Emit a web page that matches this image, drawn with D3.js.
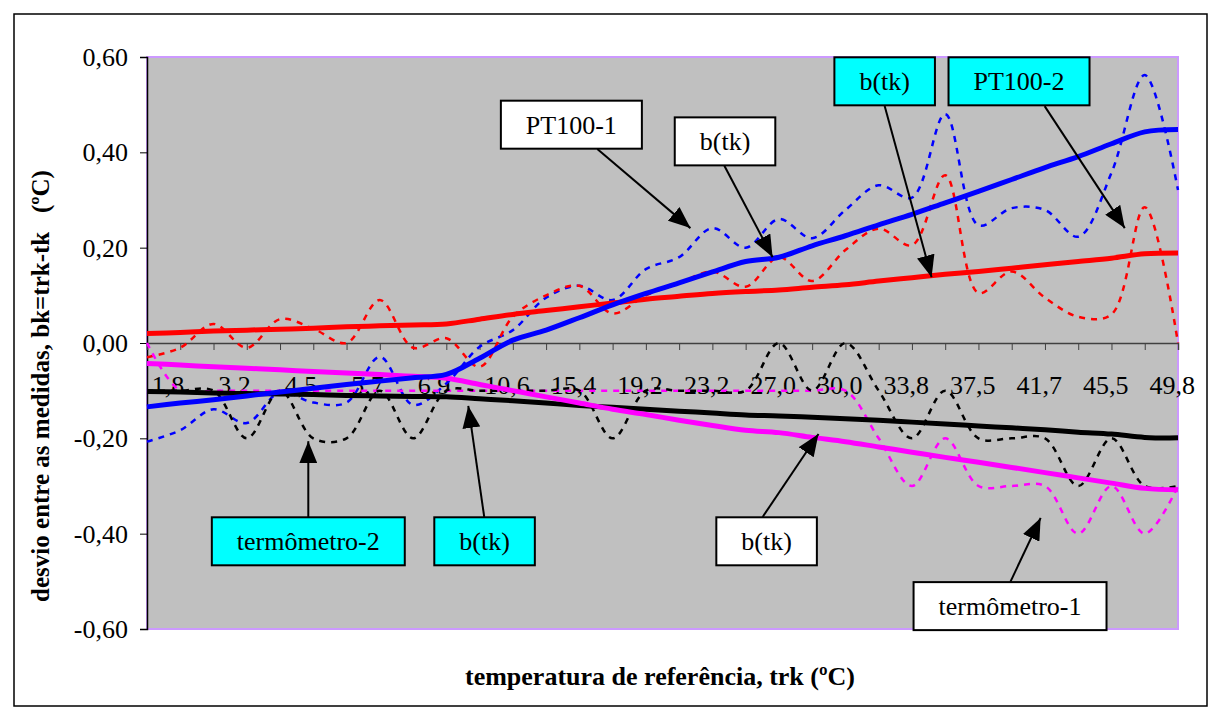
<!DOCTYPE html>
<head>
  <meta charset="utf-8">
  <script src="https://d3js.org/d3.v7.min.js"></script>
  <style>
    body { margin: 0; background: #fff; }
    svg text { font-family: "Liberation Serif", "DejaVu Serif", serif !important; fill: #000; }
  </style>
</head>
<body>
  <svg width="1221" height="722"></svg>
  <script>

  // categorias (temperatura de referência); só as ímpares têm rótulo
  var categorias = ["", "1,8", "", "3,2", "", "4,5", "", "5,7", "", "6,9", "", "10,6", "", "15,4", "", "19,2",
                    "", "23,2", "", "27,0", "", "30,0", "", "33,8", "", "37,5", "", "41,7", "", "45,5", "", "49,8"];

  var ticksY = [-0.6, -0.4, -0.2, 0, 0.2, 0.4, 0.6];

  // desvios medidos
  var pt100_1 = [-0.207, -0.183, -0.139, -0.168, -0.103, -0.125, -0.125, -0.029, -0.130, -0.085, -0.008, 0.027,
                 0.095, 0.120, 0.090, 0.155, 0.180, 0.241, 0.200, 0.260, 0.220, 0.279, 0.331, 0.305,
                 0.480, 0.247, 0.283, 0.279, 0.223, 0.357, 0.562, 0.321];
  var pt100_2 = [-0.030, -0.010, 0.040, -0.010, 0.050, 0.030, 0.000, 0.090, -0.010, 0.010, -0.050, 0.055,
                 0.100, 0.120, 0.062, 0.100, 0.125, 0.150, 0.118, 0.180, 0.130, 0.195, 0.240, 0.205,
                 0.352, 0.105, 0.150, 0.095, 0.055, 0.060, 0.285, 0.000];
  var termo1 = [0.0, -0.1, -0.1, -0.1, -0.1, -0.1, -0.1, -0.1, -0.1, -0.1, -0.1, -0.1, -0.1, -0.1, -0.1, -0.1,
                -0.1, -0.1, -0.1, -0.1, -0.1, -0.1, -0.2, -0.3, -0.2, -0.3, -0.3, -0.3, -0.4, -0.3, -0.4, -0.3];
  var termo2 = [-0.1, -0.1, -0.1, -0.2, -0.1, -0.2, -0.2, -0.1, -0.2, -0.1, -0.1, -0.1, -0.1, -0.1, -0.2, -0.1,
                -0.1, -0.1, -0.1, 0.0, -0.1, 0.0, -0.1, -0.2, -0.1, -0.2, -0.2, -0.2, -0.3, -0.2, -0.3, -0.3];

  // b(tk) ajustados
  var pt100_1_b = [-0.134, -0.126, -0.119, -0.111, -0.103, -0.095, -0.087, -0.080, -0.073, -0.066, -0.032, 0.006,
                   0.027, 0.053, 0.080, 0.104, 0.126, 0.149, 0.171, 0.180, 0.204, 0.225, 0.248, 0.270,
                   0.294, 0.318, 0.343, 0.368, 0.391, 0.418, 0.443, 0.448];
  var pt100_2_b = [0.020, 0.022, 0.025, 0.027, 0.029, 0.031, 0.034, 0.036, 0.038, 0.040, 0.050, 0.060,
                   0.068, 0.076, 0.084, 0.092, 0.098, 0.104, 0.108, 0.111, 0.117, 0.122, 0.130, 0.137,
                   0.144, 0.150, 0.157, 0.164, 0.171, 0.178, 0.187, 0.189];
  var termo1_b = [-0.043, -0.046, -0.050, -0.053, -0.056, -0.060, -0.063, -0.066, -0.070, -0.074, -0.087, -0.100,
                  -0.113, -0.126, -0.139, -0.150, -0.162, -0.173, -0.183, -0.188, -0.198, -0.207, -0.218, -0.229,
                  -0.240, -0.250, -0.261, -0.272, -0.283, -0.294, -0.305, -0.308];
  var termo2_b = [-0.102, -0.103, -0.105, -0.106, -0.107, -0.108, -0.110, -0.111, -0.112, -0.113, -0.117, -0.121,
                  -0.126, -0.131, -0.135, -0.139, -0.143, -0.147, -0.151, -0.153, -0.156, -0.159, -0.162, -0.166,
                  -0.170, -0.174, -0.178, -0.182, -0.187, -0.191, -0.198, -0.199];

  // caixas de texto com seta (posição em coordenadas do gráfico)
  var anotacoes = [
    { texto: "PT100-1",      fundo: "#fff",    caixa: [12.76, 0.458],  origem: [13.54, 0.407],  ponta: [16.34, 0.241] },
    { texto: "b(tk)",        fundo: "#fff",    caixa: [17.38, 0.423],  origem: [17.36, 0.372],  ponta: [18.81, 0.180] },
    { texto: "b(tk)",        fundo: "#00FFFF", caixa: [22.18, 0.549],  origem: [22.18, 0.497],  ponta: [23.59, 0.138] },
    { texto: "PT100-2",      fundo: "#00FFFF", caixa: [26.22, 0.549],  origem: [26.99, 0.497],  ponta: [29.40, 0.241] },
    { texto: "termômetro-2", fundo: "#00FFFF", caixa: [4.85, -0.416],  origem: [4.85, -0.365],  ponta: [4.85, -0.206] },
    { texto: "b(tk)",        fundo: "#00FFFF", caixa: [10.15, -0.416], origem: [10.14, -0.365], ponta: [9.66, -0.132] },
    { texto: "b(tk)",        fundo: "#fff",    caixa: [18.63, -0.416], origem: [18.51, -0.365], ponta: [20.19, -0.191] },
    { texto: "termômetro-1", fundo: "#fff",    caixa: [25.95, -0.552], origem: [25.96, -0.501], ponta: [26.87, -0.367] }
  ];

  var svg = d3.select("svg");

  var x = d3.scaleLinear()
      .domain([0, categorias.length - 1])
      .range([147, 1178]);

  var y = d3.scaleLinear()
      .domain([-0.6, 0.6])
      .range([629, 57]);

  var br = d3.formatLocale({ decimal: ",", thousands: ".", grouping: [3], currency: ["", ""], minus: "-" });
  var fmt = br.format(".2f");

  // moldura externa
  svg.append("rect")
      .attr("x", 14).attr("y", 14)
      .attr("width", 1193).attr("height", 692)
      .attr("fill", "#fff")
      .attr("stroke", "#000")
      .attr("stroke-width", 1.5);

  // área do gráfico
  svg.append("rect")
      .attr("x", x(0)).attr("y", y(0.6))
      .attr("width", x(31) - x(0)).attr("height", y(-0.6) - y(0.6))
      .attr("fill", "#C0C0C0")
      .attr("stroke", "#CC99FF")
      .attr("stroke-width", 2);

  // eixo y
  var gy = svg.append("g")
      .attr("transform", "translate(" + x(0) + ",0)")
      .call(d3.axisLeft(y).tickValues(ticksY).tickSize(7).tickPadding(12).tickFormat(fmt));
  gy.select(".domain").attr("stroke", "#000").attr("stroke-width", 1.5);
  gy.selectAll(".tick line").attr("stroke", "#000");
  gy.selectAll(".tick text")
      .style("font-size", "26px")
      .attr("dy", "0.33em");

  // eixo x em y = 0
  var gx = svg.append("g")
      .attr("transform", "translate(0," + y(0) + ")")
      .call(d3.axisBottom(x).tickValues(d3.range(categorias.length)).tickSize(7).tickFormat(function(d) { return categorias[d]; }));
  gx.select(".domain").attr("stroke", "#404040").attr("stroke-width", 1.5);
  gx.selectAll(".tick line").attr("stroke", "#404040");
  gx.selectAll(".tick text")
      .style("font-size", "26px")
      .attr("text-anchor", "start")
      .attr("x", -29)
      .attr("y", 51)
      .attr("dy", 0);

  // séries
  var series = [
    { valores: pt100_1, cor: "#0000FF", largura: 2.5, traco: "6,6" },
    { valores: pt100_2, cor: "#FF0000", largura: 2.5, traco: "6,6" },
    { valores: termo1,  cor: "#FF00FF", largura: 2.5, traco: "6,6" },
    { valores: termo2,  cor: "#000000", largura: 2.5, traco: "6,6" },
    { valores: pt100_2_b, cor: "#FF0000", largura: 5, traco: null },
    { valores: termo2_b,  cor: "#000000", largura: 5, traco: null },
    { valores: termo1_b,  cor: "#FF00FF", largura: 5, traco: null },
    { valores: pt100_1_b, cor: "#0000FF", largura: 5, traco: null }
  ];

  var linha = d3.line()
      .x(function(d, i) { return x(i); })
      .y(function(d) { return y(d); })
      .curve(d3.curveCatmullRom.alpha(0.5));

  svg.append("g").selectAll("path")
    .data(series)
    .enter().append("path")
      .attr("d", function(d) { return linha(d.valores); })
      .attr("fill", "none")
      .attr("stroke", function(d) { return d.cor; })
      .attr("stroke-width", function(d) { return d.largura; })
      .attr("stroke-dasharray", function(d) { return d.traco; });

  // setas
  svg.append("defs").append("marker")
      .attr("id", "seta")
      .attr("markerUnits", "userSpaceOnUse")
      .attr("markerWidth", 22).attr("markerHeight", 18)
      .attr("refX", 22).attr("refY", 9)
      .attr("orient", "auto")
    .append("path")
      .attr("d", "M0,0L22,9L0,18Z")
      .attr("fill", "#000");

  var ga = svg.append("g");

  ga.selectAll("line")
    .data(anotacoes)
    .enter().append("line")
      .attr("x1", function(d) { return x(d.origem[0]); })
      .attr("y1", function(d) { return y(d.origem[1]); })
      .attr("x2", function(d) { return x(d.ponta[0]); })
      .attr("y2", function(d) { return y(d.ponta[1]); })
      .attr("stroke", "#000")
      .attr("stroke-width", 2)
      .attr("marker-end", "url(#seta)");

  var caixas = ga.selectAll("g.caixa")
    .data(anotacoes)
    .enter().append("g")
      .attr("class", "caixa")
      .attr("transform", function(d) { return "translate(" + x(d.caixa[0]) + "," + y(d.caixa[1]) + ")"; });

  caixas.append("rect");
  caixas.append("text")
      .attr("text-anchor", "middle")
      .attr("y", 9)
      .style("font-size", "26px")
      .text(function(d) { return d.texto; });

  caixas.each(function(d) {
    var g = d3.select(this);
    var w = g.select("text").node().getComputedTextLength() + 50;
    g.select("rect")
        .attr("x", -w / 2).attr("y", -24)
        .attr("width", w).attr("height", 48)
        .attr("fill", d.fundo)
        .attr("stroke", "#000")
        .attr("stroke-width", 2);
  });

  // títulos dos eixos
  svg.append("text")
      .attr("x", 660)
      .attr("y", 685)
      .attr("text-anchor", "middle")
      .style("font-size", "26px")
      .style("font-weight", "bold")
      .text("temperatura de referência, trk (ºC)");

  svg.append("text")
      .attr("transform", "translate(49,386) rotate(-90)")
      .attr("text-anchor", "middle")
      .style("font-size", "25px")
      .style("font-weight", "bold")
      .style("white-space", "pre")
      .text("desvio entre as medidas, bk=trk-tk   (ºC)");

  </script>
</body>
